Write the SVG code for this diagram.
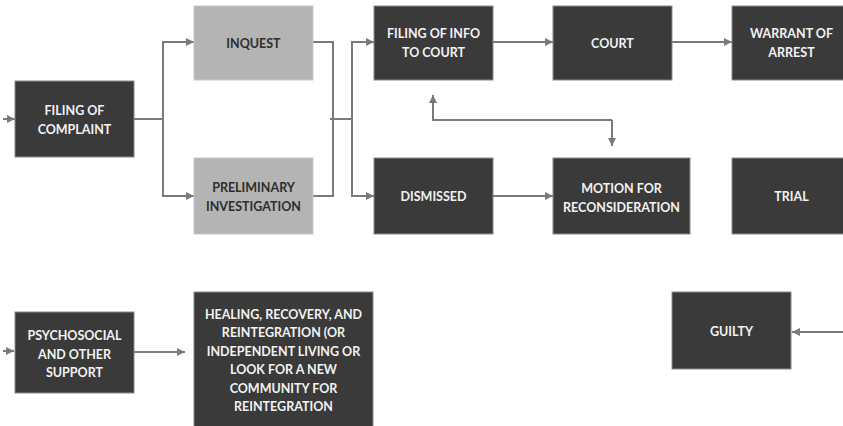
<svg xmlns="http://www.w3.org/2000/svg" width="843" height="426" viewBox="0 0 843 426">
<style>
.d{fill:#3a3a3a;stroke:#8a8a8a;stroke-width:1}
.l{fill:#b4b4b4;stroke:#c8c8c8;stroke-width:1}
.t{font-family:Lato,"Open Sans","Liberation Sans",sans-serif;font-weight:bold;font-size:12.5px;text-anchor:middle;fill:#f2f2f2}
.tl{fill:#2e2e2e}
.c{fill:none;stroke:#7a7a7a;stroke-width:2}
</style>
<defs>
<marker id="a" viewBox="0 0 10 10" refX="10" refY="5" markerWidth="4" markerHeight="4" orient="auto" markerUnits="strokeWidth">
<path d="M0,0 L10,5 L0,10 z" fill="#7a7a7a"/>
</marker>
</defs>
<rect width="843" height="426" fill="#ffffff"/>
<g id="connectors">
<path class="c" d="M3,119 H15" marker-end="url(#a)"/>
<path class="c" d="M3,351 H14" marker-end="url(#a)"/>
<path class="c" d="M134,119 H163"/>
<path class="c" d="M163,119 V42 H194" marker-end="url(#a)"/>
<path class="c" d="M163,119 V196 H194" marker-end="url(#a)"/>
<path class="c" d="M313,42 H333 V196 H313"/>
<path class="c" d="M330,119 H352"/>
<path class="c" d="M352,119 V42 H374" marker-end="url(#a)"/>
<path class="c" d="M352,119 V196 H374" marker-end="url(#a)"/>
<path class="c" d="M493,42 H553" marker-end="url(#a)"/>
<path class="c" d="M672,42 H732" marker-end="url(#a)"/>
<path class="c" d="M493,196 H553" marker-end="url(#a)"/>
<path class="c" d="M612,120 H433 V95" marker-end="url(#a)"/>
<path class="c" d="M612,120 V146" marker-end="url(#a)"/>
<path class="c" d="M134,352 H185" marker-end="url(#a)"/>
<path class="c" d="M845,332 H792" marker-end="url(#a)"/>
</g>
<g id="filing-complaint">
<rect class="d" x="15" y="81" width="119" height="76"/>
<text class="t" x="74.5" y="114.5">FILING OF</text>
<text class="t" x="74.5" y="133.5">COMPLAINT</text>
</g>
<g id="inquest">
<rect class="l" x="194" y="6" width="119" height="74"/>
<text class="t tl" x="253.5" y="47.5">INQUEST</text>
</g>
<g id="preliminary">
<rect class="l" x="194" y="158" width="119" height="76"/>
<text class="t tl" x="253.5" y="192">PRELIMINARY</text>
<text class="t tl" x="253.5" y="211">INVESTIGATION</text>
</g>
<g id="filing-info">
<rect class="d" x="374" y="6" width="119" height="74"/>
<text class="t" x="433.5" y="38">FILING OF INFO</text>
<text class="t" x="433.5" y="57">TO COURT</text>
</g>
<g id="court">
<rect class="d" x="553" y="6" width="119" height="74"/>
<text class="t" x="612.5" y="47.5">COURT</text>
</g>
<g id="warrant">
<rect class="d" x="732" y="6" width="119" height="74"/>
<text class="t" x="791.5" y="38">WARRANT OF</text>
<text class="t" x="791.5" y="57">ARREST</text>
</g>
<g id="dismissed">
<rect class="d" x="374" y="158" width="119" height="76"/>
<text class="t" x="433.5" y="201">DISMISSED</text>
</g>
<g id="motion">
<rect class="d" x="553" y="158" width="137" height="76"/>
<text class="t" x="621.5" y="192.5">MOTION FOR</text>
<text class="t" x="621.5" y="211.5">RECONSIDERATION</text>
</g>
<g id="trial">
<rect class="d" x="732" y="158" width="119" height="76"/>
<text class="t" x="791.5" y="201">TRIAL</text>
</g>
<g id="psychosocial">
<rect class="d" x="15" y="312" width="119" height="81"/>
<text class="t" x="74.5" y="340">PSYCHOSOCIAL</text>
<text class="t" x="74.5" y="358.5">AND OTHER</text>
<text class="t" x="74.5" y="377">SUPPORT</text>
</g>
<g id="healing">
<rect class="d" x="194" y="292" width="179" height="140"/>
<text class="t" x="283.5" y="319">HEALING, RECOVERY, AND</text>
<text class="t" x="283.5" y="337.4">REINTEGRATION (OR</text>
<text class="t" x="283.5" y="355.8">INDEPENDENT LIVING OR</text>
<text class="t" x="283.5" y="374.2">LOOK FOR A NEW</text>
<text class="t" x="283.5" y="392.6">COMMUNITY FOR</text>
<text class="t" x="283.5" y="411">REINTEGRATION</text>
</g>
<g id="guilty">
<rect class="d" x="672" y="292" width="119" height="77"/>
<text class="t" x="731.5" y="336">GUILTY</text>
</g>
</svg>
